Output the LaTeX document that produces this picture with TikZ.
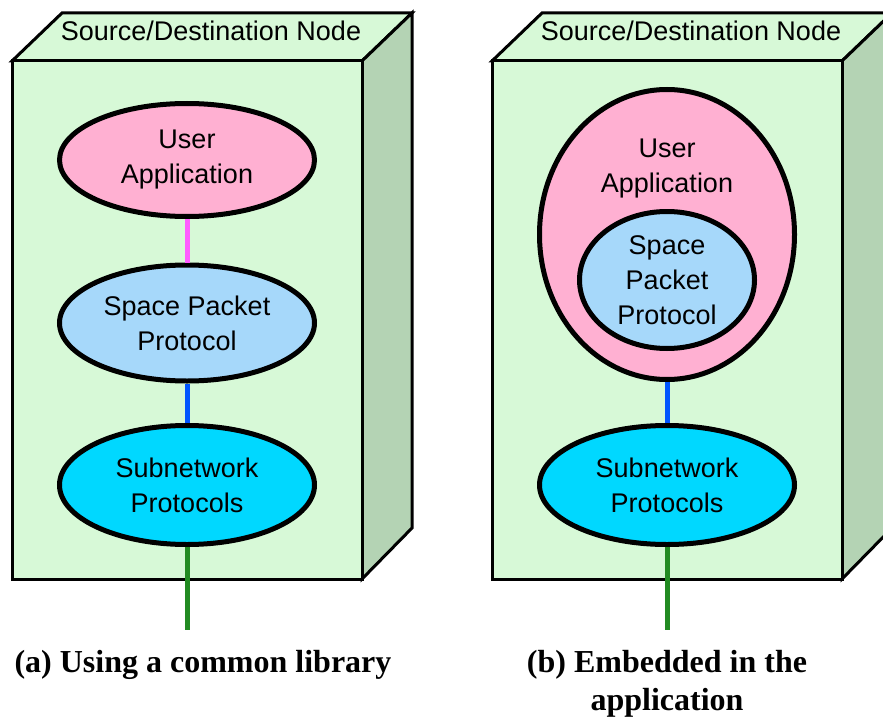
\documentclass[tikz,border=0pt]{standalone}
\usepackage{fontspec}
\setmainfont{Liberation Sans}
\newfontfamily\capfont{Liberation Serif}
\usetikzlibrary{shapes.geometric, positioning}
\definecolor{boxfront}{HTML}{D7F9D7}
\definecolor{boxside}{HTML}{B4D3B4}
\definecolor{apppink}{HTML}{FFB0D2}
\definecolor{spblue}{HTML}{A6D8FA}
\definecolor{subcyan}{HTML}{00D8FF}
\definecolor{linkpink}{HTML}{FF5CFF}
\definecolor{linkblue}{HTML}{0055FF}
\definecolor{linkgreen}{HTML}{228B22}

\begin{document}
\begin{tikzpicture}[
    x=0.5pt, y=-0.5pt,
    layer/.style={draw, ellipse, line width=2.5pt, inner sep=0pt, minimum width=127.5pt, minimum height=58pt, align=center, font=\fontsize{13.5}{17.5}\selectfont},
    app/.style={layer, fill=apppink},
    spp/.style={layer, fill=spblue},
    sub/.style={layer, fill=subcyan},
    txt/.style={align=center, inner sep=0pt, font=\fontsize{13.5}{17.5}\selectfont},
    front/.style={draw, fill=boxfront, line width=1.5pt, line join=miter},
    side/.style={draw, fill=boxside, line width=1.5pt, line join=miter},
    link/.style={line width=2.5pt},
    caption/.style={align=center, inner sep=0pt, font=\capfont\bfseries\fontsize{16}{19}\selectfont}
]
\useasboundingbox (0,0) rectangle (883,717);
\clip (0,0) rectangle (883,717);

% the two node boxes
\foreach \dx in {0,480} {
  \draw[front] (12+\dx,61) -- (62+\dx,13) -- (412+\dx,13) -- (362+\dx,61) -- cycle;
  \draw[side] (362+\dx,61) -- (412+\dx,13) -- (412+\dx,528) -- (362+\dx,579) -- cycle;
  \draw[front] (12+\dx,61) rectangle (362+\dx,579);
  \node[txt, anchor=base] at (211+\dx,41) {Source/Destination Node};
}

% (a) common library
\node[app, minimum height=56.5pt] (a1) at (187,160) {User\\Application};
\node[spp] (a2) at (187,323) {Space Packet\\Protocol};
\node[sub, minimum height=59.5pt] (a3) at (187,485) {Subnetwork\\Protocols};
\coordinate (a4) at (187,630);

\draw[link, linkpink] (a1) -- (a2);
\draw[link, linkblue] (a2) -- (a3);
\draw[link, linkgreen] (a3) -- (a4);

% (b) embedded in the application
\node[app, minimum height=145pt] (b1) at (667,234.5) {};
\node[txt] (b1t) at (667,169) {User\\Application};
\node[spp, minimum width=87.5pt, minimum height=68.5pt] (b2) at (667,280) {Space\\Packet\\Protocol};
\node[sub, minimum height=59.5pt] (b3) at (667,485) {Subnetwork\\Protocols};
\coordinate (b4) at (667,630);

\draw[link, linkblue] (b1) -- (b3);
\draw[link, linkgreen] (b3) -- (b4);

\node[caption, anchor=base] (capa) at (203,672) {(a) Using a common library};
\node[caption, anchor=base] (capb) at (667,710) {(b) Embedded in the\\application};

\end{tikzpicture}
\end{document}
